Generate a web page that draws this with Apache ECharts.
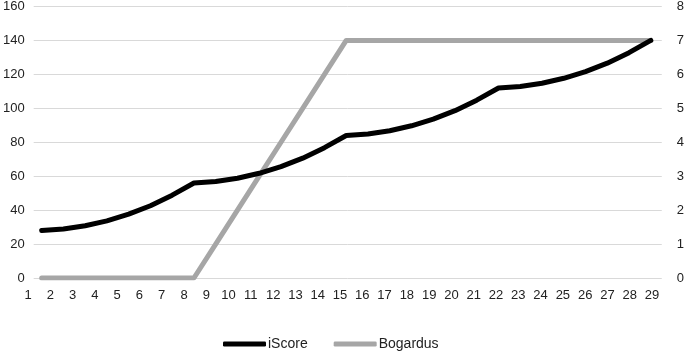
<!DOCTYPE html>
<html><head><meta charset="utf-8">
<script src="https://cdn.jsdelivr.net/npm/echarts@6/dist/echarts.min.js"></script>
<style>html,body{margin:0;padding:0;background:#fff}#c{width:687px;height:351px}</style>
</head><body><div id="c"></div>
<script>
var xPositions = [1,2,3,4,5,6,7,8,9,10,11,12,13,14,15,16,17,18,19,20,21,22,23,24,25,26,27,28,29];
var xTickLabels = [1,2,3,4,5,6,7,8,9,10,11,12,13,14,15,16,17,18,19,20,21,22,23,24,25,26,27,28,29];
var iScore = [28, 28.9, 30.8, 33.7, 37.6, 42.6, 48.8, 56,
              56.9, 58.8, 61.7, 65.6, 70.6, 76.8, 84,
              84.9, 86.8, 89.7, 93.6, 98.6, 104.8, 112,
              112.9, 114.8, 117.7, 121.6, 126.6, 132.8, 140];
var bogardus = [0,0,0,0,0,0,0,0, 1,2,3,4,5,6,7, 7,7,7,7,7,7,7, 7,7,7,7,7,7,7];
var seriesNames = ['iScore', 'Bogardus'];

var font = 'Liberation Sans, Arial, sans-serif';
var txt = '#222';
function pairs(v){ return v.map(function(y,i){ return [xPositions[i], y]; }); }

var chart = echarts.init(document.getElementById('c'));
chart.setOption({
  animation: false,
  grid: [
    {left: 33, right: 25, top: 6, bottom: 73},
    {left: 28, right: 35, top: 6, bottom: 73}
  ],
  xAxis: [
    {gridIndex: 0, type: 'value', min: 0.633, max: 29.505, show: false},
    {gridIndex: 1, type: 'value', min: 1, max: 29, interval: 1,
     axisLine: {show: false}, axisTick: {show: false}, splitLine: {show: false},
     axisLabel: {margin: 11, fontSize: 13, color: txt, fontFamily: font,
       formatter: function(v){ return xTickLabels.indexOf(v) >= 0 ? String(v) : ''; }}}
  ],
  yAxis: [
    {gridIndex: 0, type: 'value', min: 0, max: 160, interval: 20,
     axisLine: {show: false}, axisTick: {show: false},
     splitLine: {lineStyle: {color: '#d9d9d9', width: 1}},
     axisLabel: {margin: 9, fontSize: 13, color: txt, fontFamily: font}},
    {gridIndex: 0, type: 'value', min: 0, max: 8, interval: 1, position: 'right',
     axisLine: {show: false}, axisTick: {show: false}, splitLine: {show: false},
     axisLabel: {margin: 15, fontSize: 13, color: txt, fontFamily: font}},
    {gridIndex: 1, type: 'value', min: 0, max: 1, show: false}
  ],
  legend: {
    data: seriesNames, top: 332, left: 218, icon: 'roundRect',
    itemWidth: 43, itemHeight: 5, itemGap: 26,
    textStyle: {fontSize: 14, color: txt, fontFamily: font, padding: [0,0,0,-3]}
  },
  series: [
    {name: seriesNames[0], type: 'line', xAxisIndex: 0, yAxisIndex: 0, data: pairs(iScore),
     showSymbol: false, symbol: 'none', color: '#000',
     lineStyle: {color: '#000', width: 5, cap: 'round', join: 'round'}, z: 3},
    {name: seriesNames[1], type: 'line', xAxisIndex: 0, yAxisIndex: 1, data: pairs(bogardus),
     showSymbol: false, symbol: 'none', color: '#a6a6a6',
     lineStyle: {color: '#a6a6a6', width: 5, cap: 'round', join: 'round'}, z: 2}
  ]
});
</script></body></html>
